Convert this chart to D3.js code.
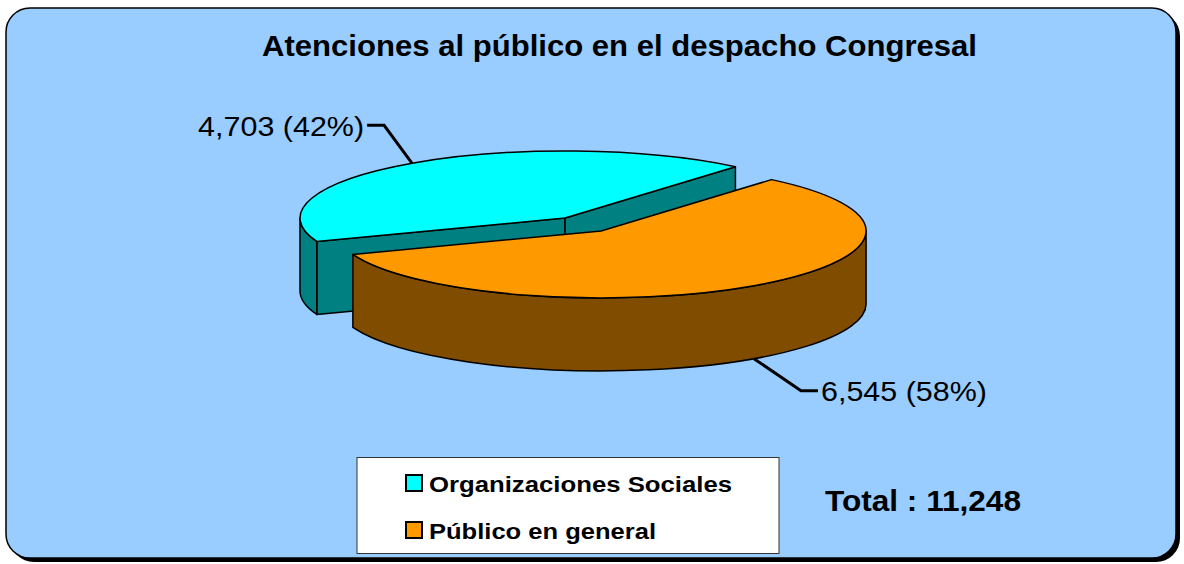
<!DOCTYPE html>
<html>
<head>
<meta charset="utf-8">
<script src="https://cdn.jsdelivr.net/npm/d3@7"></script>
<style>
  html, body { margin: 0; padding: 0; background: #ffffff; }
  svg { display: block; }
  text { font-family: "Liberation Sans", Arial, sans-serif; fill: #000; }
</style>
</head>
<body>
<svg id="chart" width="1184" height="564"></svg>
<script>
// ---- Data ----
const titleText = "Atenciones al público en el despacho Congresal";
const categories = ["Organizaciones Sociales", "Público en general"];
const values = [4703, 6545];
const topColors = ["#00FFFF", "#FF9900"];
const sideColors = ["#008080", "#7F4C00"];
const totalLabel = "Total : ";

// ---- Layout ----
const W = 1184, H = 564;
const pieCx = 565, pieCy = 218;       // centre of the (unexploded) pie top
const rx = 265, ry = 67, depth = 73;
const explode = [0, 0.236];
const startDeg = 249.5;               // d3.pie start angle (clockwise from 12 o'clock)
const leaderOffsets = [[-28, -38], [47, 32]];
const leaderTail = 17;

const svg = d3.select("#chart");

// Frame with shadow
svg.append("rect").attr("x", 10).attr("y", 12).attr("width", 1170).attr("height", 550)
  .attr("rx", 24).attr("fill", "#000");
svg.append("rect").attr("x", 6).attr("y", 8).attr("width", 1170).attr("height", 550)
  .attr("rx", 24).attr("fill", "#99CCFF").attr("stroke", "#000").attr("stroke-width", 1.5);

// Title
svg.append("text").attr("x", 619.5).attr("y", 56).attr("text-anchor", "middle")
  .attr("font-size", 30).attr("font-weight", "bold")
  .attr("textLength", 715).attr("lengthAdjust", "spacingAndGlyphs")
  .text(titleText);

// Pie geometry
const total = d3.sum(values);
const rad = d => d * Math.PI / 180;
const pie = d3.pie().sort(null).value(d => d)
  .startAngle(rad(startDeg)).endAngle(rad(startDeg) + 2 * Math.PI);
const arcs = pie(values);

const slices = arcs.map((a, i) => {
  let t0 = a.startAngle - Math.PI / 2;
  let t1 = a.endAngle - Math.PI / 2;
  while (t0 > Math.PI) { t0 -= 2 * Math.PI; t1 -= 2 * Math.PI; }
  const mid = (t0 + t1) / 2;
  const c = [pieCx + explode[i] * rx * Math.cos(mid), pieCy + explode[i] * ry * Math.sin(mid)];
  return { i, t0, t1, mid, c, value: a.value };
});

const P = (c, t, dy = 0) => [c[0] + rx * Math.cos(t), c[1] + ry * Math.sin(t) + dy];
const f = p => p[0].toFixed(2) + "," + p[1].toFixed(2);

function topPath(s) {
  const large = (s.t1 - s.t0) > Math.PI ? 1 : 0;
  return "M" + f(s.c) + "L" + f(P(s.c, s.t0)) +
    "A" + rx + "," + ry + " 0 " + large + " 1 " + f(P(s.c, s.t1)) + "Z";
}
function sidePaths(s) {
  const out = [];
  [[-2 * Math.PI, -Math.PI], [0, Math.PI], [2 * Math.PI, 3 * Math.PI]].forEach(([a, b]) => {
    const st = Math.max(a, s.t0), en = Math.min(b, s.t1);
    if (en > st + 1e-6) {
      out.push("M" + f(P(s.c, st)) + "A" + rx + "," + ry + " 0 0 1 " + f(P(s.c, en)) +
        "L" + f(P(s.c, en, depth)) + "A" + rx + "," + ry + " 0 0 0 " + f(P(s.c, st, depth)) + "Z");
    }
  });
  return out;
}
function facePath(s, t) {
  const a = P(s.c, t), b = P(s.c, t, depth);
  return "M" + f(s.c) + "L" + f(a) + "L" + f(b) + "L" + f([s.c[0], s.c[1] + depth]) + "Z";
}

const order = slices.slice().sort((a, b) => Math.sin(a.mid) - Math.sin(b.mid));
const gPie = svg.append("g").attr("stroke", "#000").attr("stroke-width", 1.5)
  .attr("stroke-linejoin", "round");

order.forEach(s => {
  const g = gPie.append("g");
  if (Math.cos(s.t0) < 0) g.append("path").attr("d", facePath(s, s.t0)).attr("fill", sideColors[s.i]);
  if (Math.cos(s.t1) > 0) g.append("path").attr("d", facePath(s, s.t1)).attr("fill", sideColors[s.i]);
  sidePaths(s).forEach(d => g.append("path").attr("d", d).attr("fill", sideColors[s.i]));
  g.append("path").attr("d", topPath(s)).attr("fill", topColors[s.i]);
});

// Data labels with leader lines
const fmt = d3.format(",");
slices.forEach(s => {
  const back = Math.sin(s.mid) < 0;
  const anchor = P(s.c, s.mid, back ? 0 : depth);
  const off = leaderOffsets[s.i];
  const elbow = [anchor[0] + off[0], anchor[1] + off[1]];
  const dir = off[0] < 0 ? -1 : 1;
  const tail = [elbow[0] + dir * leaderTail, elbow[1]];
  svg.append("path")
    .attr("d", "M" + f(anchor) + "L" + f(elbow) + "L" + f(tail))
    .attr("fill", "none").attr("stroke", "#000").attr("stroke-width", 3)
    .attr("stroke-linejoin", "miter");
  const pct = Math.round(s.value / total * 100);
  svg.append("text")
    .attr("x", tail[0] + dir * 3).attr("y", elbow[1] + 10.5)
    .attr("text-anchor", dir < 0 ? "end" : "start")
    .attr("font-size", 28)
    .attr("textLength", 166).attr("lengthAdjust", "spacingAndGlyphs")
    .text(fmt(s.value) + " (" + pct + "%)");
});

// Legend
const legend = svg.append("g");
legend.append("rect").attr("x", 357).attr("y", 457.5).attr("width", 422).attr("height", 96)
  .attr("fill", "#fff").attr("stroke", "#333").attr("stroke-width", 1);
const legendLens = [303, 227];
categories.forEach((c, i) => {
  const y = 475 + i * 47;
  legend.append("rect").attr("x", 406).attr("y", y).attr("width", 16).attr("height", 16)
    .attr("fill", topColors[i]).attr("stroke", "#000").attr("stroke-width", 2);
  legend.append("text").attr("x", 429).attr("y", y + 16.5)
    .attr("font-size", 22.5).attr("font-weight", "bold")
    .attr("textLength", legendLens[i]).attr("lengthAdjust", "spacingAndGlyphs")
    .text(c);
});

// Total
svg.append("text").attr("x", 825).attr("y", 511)
  .attr("font-size", 30).attr("font-weight", "bold")
  .attr("textLength", 196).attr("lengthAdjust", "spacingAndGlyphs")
  .text(totalLabel + fmt(total));
</script>
</body>
</html>
